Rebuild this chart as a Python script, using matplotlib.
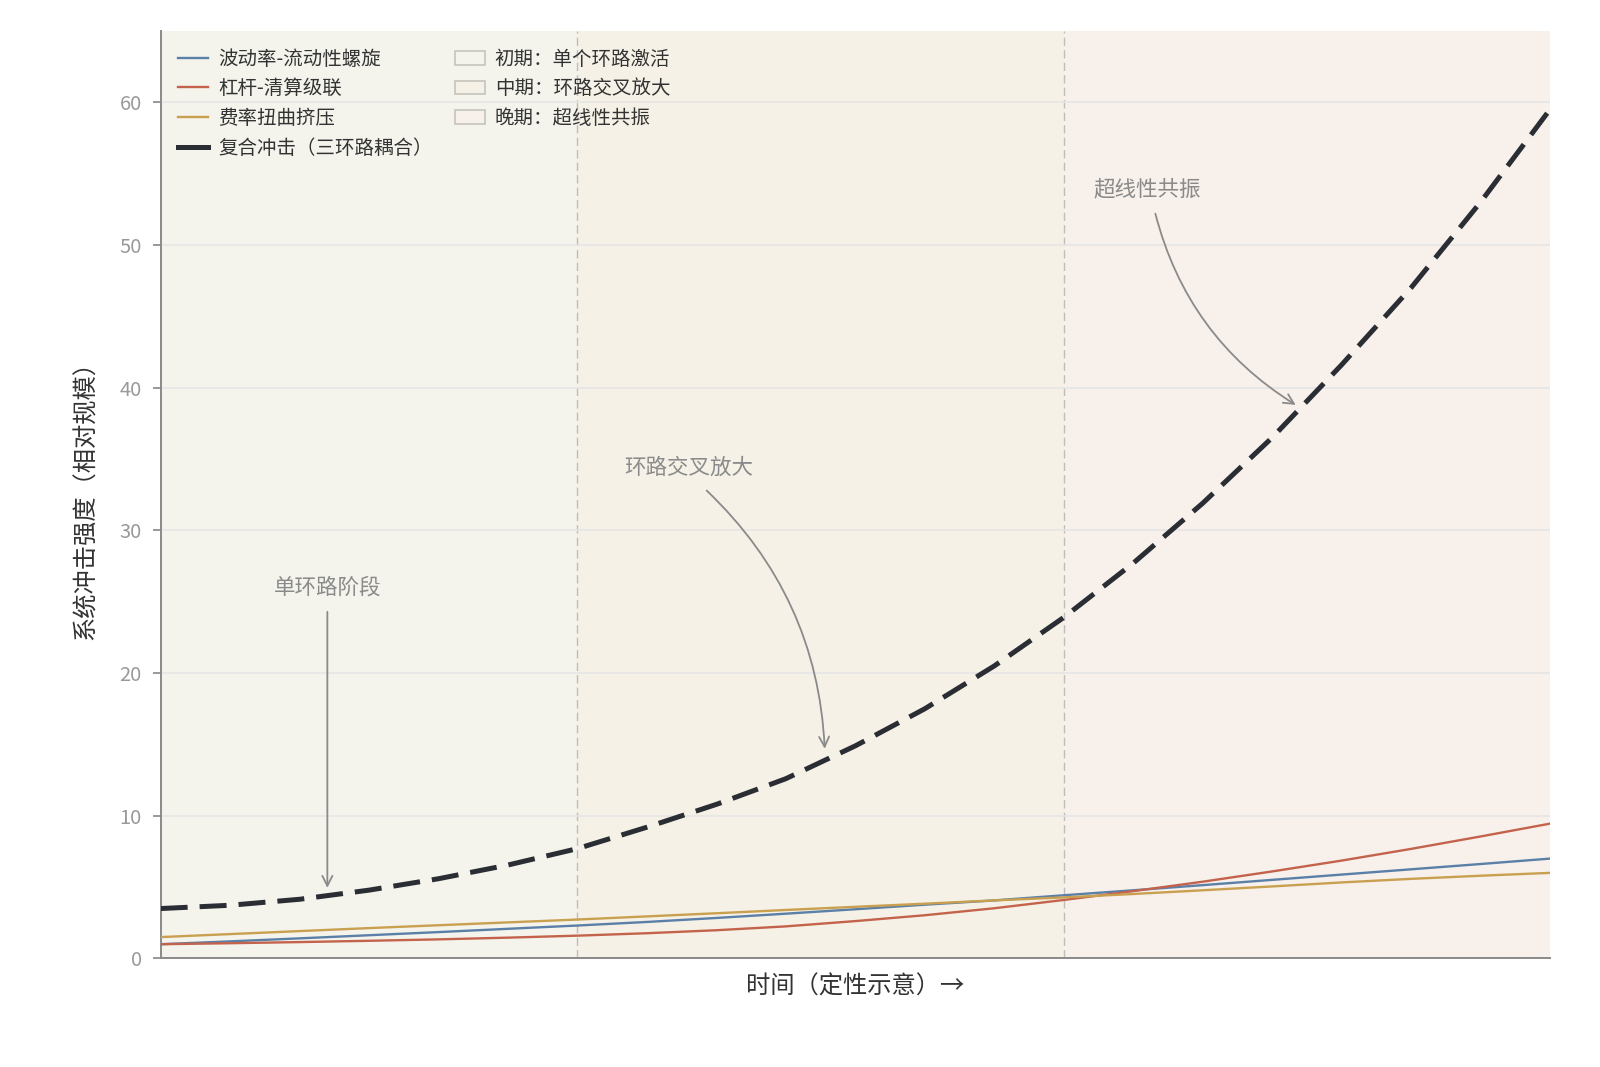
import matplotlib
matplotlib.use('Agg')
import matplotlib.pyplot as plt
from matplotlib.patches import Patch
from matplotlib.lines import Line2D

plt.rcParams['font.family'] = ['Noto Sans CJK SC', 'DejaVu Sans']
plt.rcParams['axes.unicode_minus'] = False

# ---------------- data ----------------
t = [0.00, 0.05, 0.10, 0.15, 0.20, 0.25, 0.30, 0.35, 0.40, 0.45, 0.50,
     0.55, 0.60, 0.65, 0.70, 0.75, 0.80, 0.85, 0.90, 0.95, 1.00]

vol_liq = [1.00, 1.20, 1.41, 1.63, 1.85, 2.08, 2.31, 2.56, 2.84, 3.14, 3.45,
           3.77, 4.07, 4.43, 4.78, 5.14, 5.51, 5.88, 6.25, 6.62, 7.00]

lev_liq = [1.00, 1.07, 1.15, 1.24, 1.34, 1.46, 1.60, 1.77, 1.98, 2.25, 2.62,
           3.03, 3.52, 4.10, 4.72, 5.38, 6.10, 6.86, 7.68, 8.55, 9.45]

funding = [1.50, 1.71, 1.92, 2.13, 2.33, 2.53, 2.73, 2.95, 3.17, 3.40, 3.62,
           3.84, 4.07, 4.28, 4.52, 4.78, 5.05, 5.33, 5.58, 5.80, 6.00]

combined = [3.50, 3.73, 4.15, 4.79, 5.59, 6.55, 7.70, 9.20, 10.80, 12.60, 14.90,
            17.50, 20.50, 23.90, 27.70, 31.90, 36.50, 41.60, 47.00, 53.00, 59.50]

series_labels = ['波动率-流动性螺旋', '杠杆-清算级联', '费率扭曲挤压', '复合冲击（三环路耦合）']

phase_edges = [0.0, 0.30, 0.65, 1.0]
phase_labels = ['初期：单个环路激活', '中期：环路交叉放大', '晚期：超线性共振']

ann_texts = ['单环路阶段', '环路交叉放大', '超线性共振']

# ---------------- styles / positions ----------------
series_colors = ['#5b80a8', '#c4634c', '#c9a050', '#2a2d33']
phase_colors = ['#f4f4ed', '#f5f1e6', '#f7f0eb']

ann_text_xy = [(0.12, 26.0), (0.38, 34.4), (0.71, 53.9)]
ann_from = [(0.12, 24.3), (0.393, 32.8), (0.716, 52.2)]
ann_to = [(0.12, 4.95), (0.478, 14.7), (0.817, 38.8)]
ann_rad = [0.0, -0.2, 0.2]

fig = plt.figure(figsize=(16, 10.67), dpi=100)
ax = fig.add_axes([0.1004, 0.1017, 0.8683, 0.8692])

# phase backgrounds
for i in range(3):
    ax.axvspan(phase_edges[i], phase_edges[i + 1], facecolor=phase_colors[i],
               edgecolor='none', zorder=0)
for e in phase_edges[1:-1]:
    ax.axvline(e, color='#bdbdbd', lw=1.0, ls=(0, (6, 3)), zorder=1.2)

ax.set_axisbelow('line')
ax.yaxis.grid(True, color='#e6e6e6', lw=1.2)
ax.xaxis.grid(False)

# lines
ax.plot(t, vol_liq, color=series_colors[0], lw=1.7, zorder=3)
ax.plot(t, lev_liq, color=series_colors[1], lw=1.7, zorder=3)
ax.plot(t, funding, color=series_colors[2], lw=1.7, zorder=3)
ax.plot(t, combined, color=series_colors[3], lw=3.6, dashes=(5.4, 2.4),
        dash_capstyle='butt', zorder=4)

# annotations
for txt, pos, p0, p1, rad in zip(ann_texts, ann_text_xy, ann_from, ann_to, ann_rad):
    ax.text(pos[0], pos[1], txt, ha='center', va='center', fontsize=15.5,
            color='#8a8a8a', zorder=5)
    ax.annotate('', xy=p1, xytext=p0,
                arrowprops=dict(arrowstyle='->,head_length=0.4,head_width=0.2',
                                color='#8a8a8a', lw=1.3, shrinkA=0, shrinkB=0,
                                mutation_scale=18,
                                connectionstyle=f'arc3,rad={rad}'),
                zorder=5)

ax.set_xlim(0, 1)
ax.set_ylim(0, 65)
ax.set_xticks([])
ax.set_yticks([0, 10, 20, 30, 40, 50, 60])
ax.tick_params(axis='y', colors='#888888', labelcolor='#999999', labelsize=14.5,
               length=5.5, width=1.2, pad=8)

for s in ['top', 'right']:
    ax.spines[s].set_visible(False)
for s in ['left', 'bottom']:
    ax.spines[s].set_color('#8a8a8a')
    ax.spines[s].set_linewidth(1.4)

ax.set_xlabel('时间（定性示意）→', fontsize=17.5, color='#333333', labelpad=11)
ax.set_ylabel('系统冲击强度（相对规模）', fontsize=17.5, color='#333333', labelpad=15)

# legend
handles = [Line2D([], [], color=series_colors[0], lw=1.7),
           Line2D([], [], color=series_colors[1], lw=1.7),
           Line2D([], [], color=series_colors[2], lw=1.7),
           Line2D([], [], color=series_colors[3], lw=3.6)]
for c in phase_colors:
    handles.append(Patch(facecolor=c, edgecolor='#c4c4bc', lw=1.2))
labels = series_labels + phase_labels
leg = ax.legend(handles, labels, loc='upper left', ncol=2, frameon=False,
                fontsize=14, handlelength=1.55, handletextpad=0.5,
                columnspacing=1.15, labelspacing=0.45)
for txt in leg.get_texts():
    txt.set_color('#333333')

fig.savefig('out.png', dpi=100, facecolor='white')
